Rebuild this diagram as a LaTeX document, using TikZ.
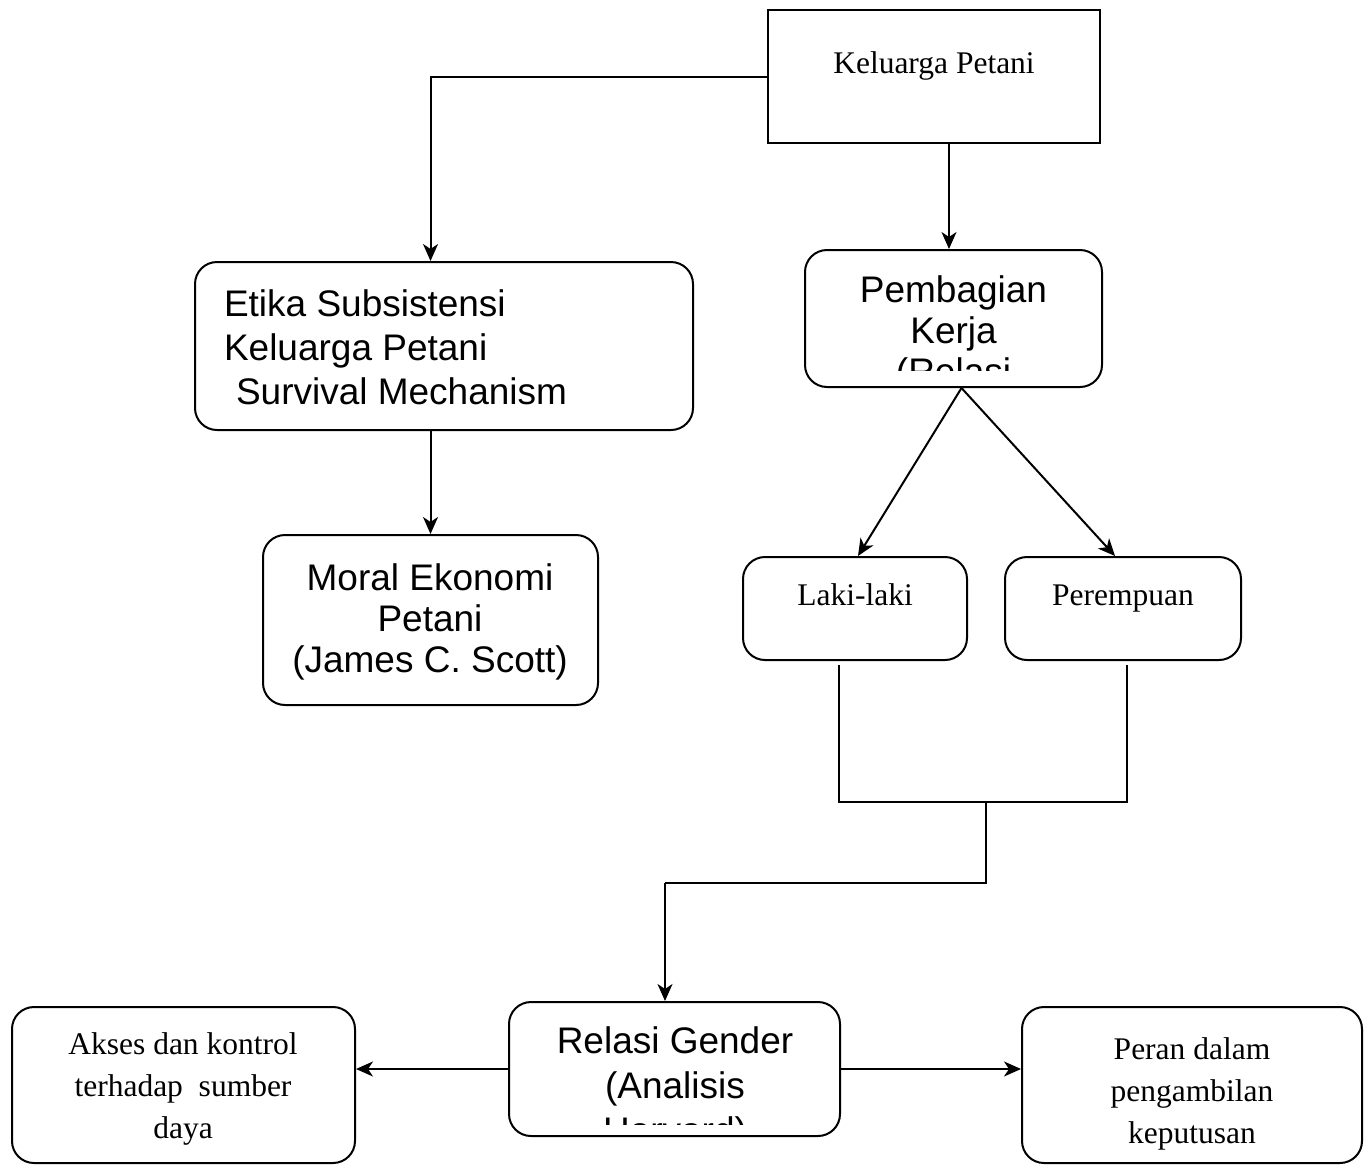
\documentclass[tikz,border=0pt]{standalone}
\usepackage{fontspec}
\setmainfont{Liberation Serif}
\newfontfamily\arialfont{Liberation Sans}
\usetikzlibrary{arrows.meta,positioning}

\begin{document}
\begin{tikzpicture}[x=1pt,y=-1pt, line width=2pt,
  box/.style={draw, rounded corners=22pt, inner sep=0pt},
  sharpbox/.style={draw, inner sep=0pt},
  ser/.style={font=\fontsize{31.5}{42}\selectfont, align=center, inner sep=0pt, anchor=base},
  sans/.style={font=\arialfont\fontsize{37}{#1}\selectfont, align=center, inner sep=0pt, anchor=base},
  sans/.default=42,
  arr/.style={-{Stealth[length=17pt,width=15pt,inset=5pt]}}]
\useasboundingbox (0,0) rectangle (1372,1165);

% the boxes
\node[sharpbox, minimum width=332, minimum height=133] (kel) at (934,76.5) {};
\node[box, minimum width=498, minimum height=168] (etika) at (444,346) {};
\node[box, minimum width=335, minimum height=170] (moral) at (430.5,620) {};
\node[box, minimum width=297, minimum height=137] (bagi) at (953.5,318.5) {};
\node[box, minimum width=224, minimum height=103] (laki) at (855,608.5) {};
\node[box, minimum width=236, minimum height=103] (pr) at (1123,608.5) {};
\node[box, minimum width=331, minimum height=134] (rel) at (674.5,1069) {};
\node[box, minimum width=343, minimum height=156] (akses) at (183.5,1085) {};
\node[box, minimum width=340, minimum height=156] (peran) at (1192,1085) {};

% texts (base = last line)
\node[ser] (kelT) at (934,73) {Keluarga Petani};
\node[sans=44, anchor=base west, align=left] (etikaT) at (223,404)
  {Etika Subsistensi\\Keluarga Petani\\\hspace*{12pt}Survival Mechanism};
\node[sans=41] (moralT) at (430,672) {Moral Ekonomi\\Petani\\(James C. Scott)};
\begin{scope}
  \clip (805,250) rectangle (1102,370);
  \node[sans=41] (bagiT) at (953.5,384) {Pembagian\\Kerja\\(Relasi};
\end{scope}
\node[ser] (lakiT) at (855,605) {Laki-laki};
\node[ser] (prT) at (1123,605) {Perempuan};
\begin{scope}
  \clip (509,1002) rectangle (840,1124);
  \node[sans=45] (relT) at (675,1143) {Relasi Gender\\(Analisis\\Harvard)};
\end{scope}
\node[ser] (aksesT) at (183,1138) {Akses dan kontrol\\terhadap\ \ sumber\\daya};
\node[ser] (peranT) at (1192,1143) {Peran dalam\\pengambilan\\keputusan};

% connectors
\coordinate (jl) at (839,802);
\coordinate (jr) at (1127,802);
\coordinate (jm) at (986,802);
\coordinate (jc) at (665,883);
\draw[arr] (kel.west) -| (etika.north -| moral.north);
\draw[arr] ([xshift=15pt]kel.south) -- ([xshift=15pt]kel.south |- bagi.north);
\draw[arr] (etika.south -| moral.north) -- (moral.north);
\draw[arr] ([xshift=8pt]bagi.south) -- ([xshift=3pt]laki.north);
\draw[arr] ([xshift=8pt]bagi.south) -- ([xshift=-8pt]pr.north);
\draw ([yshift=-4pt]laki.south -| jl) -- (jl) -- (jr) -- ([yshift=-4pt]pr.south -| jr);
\draw (jm) |- (jc);
\draw[arr] (jc) -- (jc |- rel.north);
\draw[arr] (rel.west) -- (akses.east |- rel.west);
\draw[arr] (rel.east) -- (peran.west |- rel.east);
\end{tikzpicture}
\end{document}
